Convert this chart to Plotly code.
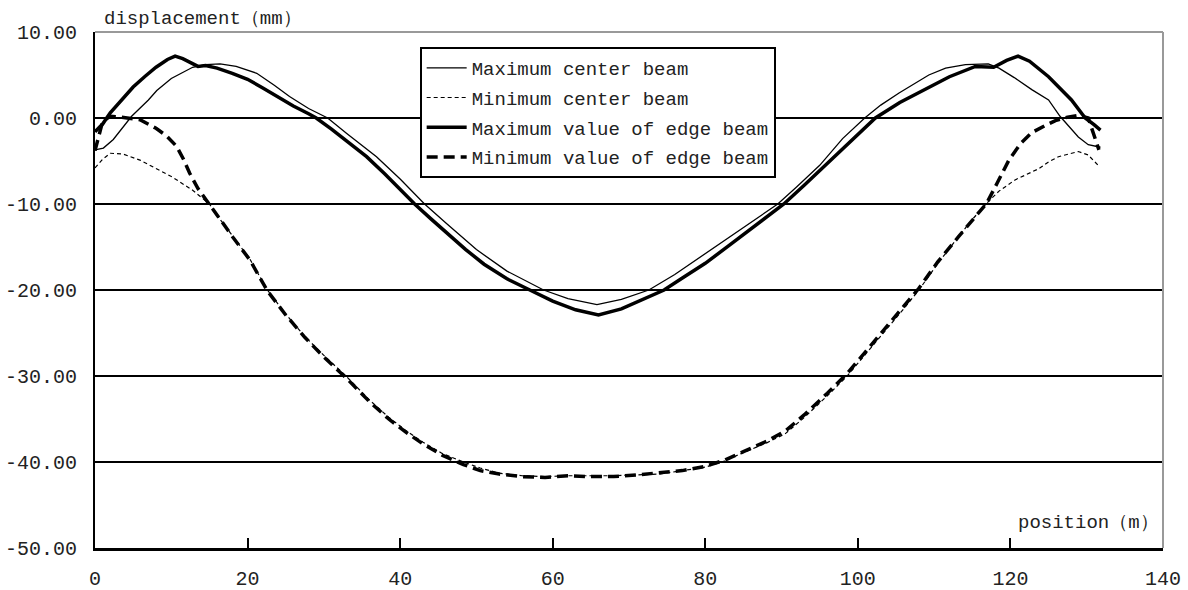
import plotly.graph_objects as go

# ---- data ----
center_max_x = [0, 1.1, 2.4, 3.7, 4.8, 7, 8.1, 10, 12.8, 14.5, 16.4, 18.5, 21.2, 23.5, 25.5, 28, 30.5,
                33, 36.9, 40, 43.2, 46, 50, 54, 58.8, 62, 65.8,
                69, 72.6, 76, 80, 84, 89.5, 92, 95, 98, 100.9, 103, 105.4, 109.3, 111.5, 114.1, 117.1,
                118.5, 120.5, 122.8, 125, 126.5, 128.9, 130.2, 131.8]
center_max_y = [-3.7, -3.5, -2.5, -1.0, 0.2, 2.1, 3.2, 4.6, 5.9, 6.2, 6.3, 6.0, 5.2, 3.8, 2.5, 1.1, 0.0,
                -1.8, -4.5, -7.1, -10.0, -12.2, -15.3, -17.8, -20.0, -21.0, -21.7,
                -21.1, -20.0, -18.2, -15.8, -13.4, -10.0, -8.0, -5.5, -2.4, 0.0, 1.5, 2.9, 5.0, 5.8, 6.2, 6.3,
                5.8, 4.7, 3.3, 2.1, 0.2, -2.2, -3.1, -3.4]

center_min_x = [0, 1, 2, 3.7, 5.9, 8, 10.2, 12.8, 15, 16.5, 18.1, 20.3, 22.6, 25, 27.5, 30, 32.9, 36,
                38.5, 40.7, 43, 45.5, 48.3, 50.5, 53, 56, 59, 62, 65, 68, 71, 74, 77, 80, 82.5, 85, 88,
                90.5, 93, 96, 98.6, 101, 103.5, 106, 108, 110.5, 113.2, 115, 116.9, 118.5, 120.6, 123.7,
                125, 126.3, 128.9, 130.2, 131.6]
center_min_y = [-5.8, -4.8, -4.1, -4.2, -4.9, -5.9, -6.9, -8.4, -10.0, -11.9, -13.8, -16.4, -20.0, -22.8,
                -25.4, -27.6, -30.0, -32.8, -34.8, -36.3, -37.7, -39.0, -40.0, -40.7, -41.3, -41.6, -41.7,
                -41.6, -41.6, -41.6, -41.5, -41.4, -41.0, -40.6, -39.9, -38.9, -37.8, -36.7, -34.8, -32.3,
                -30.0, -27.5, -24.8, -22.2, -20.0, -16.9, -13.8, -11.8, -9.9, -8.5, -7.2, -5.9, -5.1, -4.5,
                -3.9, -4.3, -5.6]

edge_max_x = [0, 1, 2, 3.5, 5, 6.5, 8, 9.5, 10.5, 11.5, 12.5, 13.5, 14.5, 16, 18, 20, 22, 24, 26, 28, 29,
              31, 33, 35.6, 38, 40, 41.9, 44, 46, 48.6, 51, 54, 57, 60, 63, 66,
              69, 72, 74.6, 77, 80, 83, 86, 88, 90.3, 93, 96, 99, 102.3, 105.5, 109.3, 112, 115.4, 117.8,
              119.5, 121, 122.5, 125, 128, 129.8, 131, 131.8]
edge_max_y = [-1.6, -0.7, 0.6, 2.1, 3.6, 4.8, 5.9, 6.8, 7.2, 6.9, 6.4, 6.0, 6.1, 5.8, 5.2, 4.5, 3.5, 2.4,
              1.4, 0.5, 0.0, -1.3, -2.7, -4.5, -6.5, -8.3, -10.0, -11.7, -13.3, -15.3, -17.0, -18.7, -20.0,
              -21.3, -22.3, -22.9,
              -22.2, -21.0, -20.0, -18.6, -16.9, -14.9, -12.9, -11.5, -10.0, -7.8, -5.3, -2.8, 0.0, 1.8,
              3.6, 4.8, 6.0, 5.9, 6.7, 7.2, 6.6, 4.8, 2.1, 0.0, -0.8, -1.4]

edge_min_x = [0, 0.5, 1, 2, 3.5, 5.9, 8, 9.4, 10.7, 11.6, 12.4, 13.5, 15, 16.5, 18.1, 20.3, 22.6, 25, 27.5,
              30, 32.9, 36, 38.5, 40.7, 43, 45.5, 48.3, 50.5, 53, 56, 59, 62, 65, 68, 71, 74, 77, 80, 82.5,
              85, 88, 90.5, 93, 96, 98.6, 101, 103.5, 106, 108, 110.5, 113.2, 115, 116.9, 118.3, 119.8,
              121.3, 122.8, 124.5, 125.9, 127.5, 128.9, 130.2, 130.9, 131.6]
edge_min_y = [-3.8, -2.0, -0.4, 0.2, 0.1, -0.2, -1.2, -2.1, -3.3, -4.8, -6.4, -8.2, -10.0, -11.9, -13.9,
              -16.5, -20.1, -22.9, -25.5, -27.8, -30.2, -33.0, -35.0, -36.5, -37.9, -39.2, -40.3, -41.0,
              -41.4, -41.7, -41.8, -41.6, -41.7, -41.7, -41.5, -41.3, -41.0, -40.5, -39.8, -38.8, -37.6,
              -36.4, -34.5, -32.0, -29.7, -27.2, -24.5, -21.9, -19.8, -16.7, -13.8, -11.9, -9.9, -7.5,
              -4.9, -3.0, -1.7, -0.9, -0.3, 0.1, 0.3, 0.0, -1.8, -3.7]

series_names = ["Maximum center beam", "Minimum center beam",
                "Maximum value of edge beam", "Minimum value of edge beam"]

y_tickvals = [10, 0, -10, -20, -30, -40, -50]
y_ticktext = ["10.00", "0.00", "-10.00", "-20.00", "-30.00", "-40.00", "-50.00"]
x_tickvals = [0, 20, 40, 60, 80, 100, 120, 140]
x_ticktext = ["0", "20", "40", "60", "80", "100", "120", "140"]

y_title = "displacement（mm）"
x_title = "position（m）"

# ---- figure ----
MONO = "Liberation Mono"
fig = go.Figure()
fig.add_trace(go.Scatter(x=center_max_x, y=center_max_y, mode="lines", name=series_names[0],
                         legendgroup="a", line=dict(color="black", width=1.3)))
fig.add_trace(go.Scatter(x=center_min_x, y=center_min_y, mode="lines", name=series_names[1],
                         legendgroup="b", line=dict(color="black", width=1.2, dash="4px,3px")))
fig.add_trace(go.Scatter(x=edge_max_x, y=edge_max_y, mode="lines", name=series_names[2],
                         legendgroup="c", line=dict(color="black", width=3.5)))
fig.add_trace(go.Scatter(x=edge_min_x, y=edge_min_y, mode="lines", name=series_names[3],
                         legendgroup="d", line=dict(color="black", width=3.5, dash="11px,6px")))

fig.update_layout(
    width=1188, height=590,
    margin=dict(l=95, r=25, t=32, b=42, autoexpand=False),
    paper_bgcolor="white", plot_bgcolor="white",
    font=dict(family=MONO, size=19, color="#222"),
    showlegend=True,
    legend=dict(x=0.304, y=0.971, xanchor="left", yanchor="top",
                bgcolor="white", bordercolor="black", borderwidth=2,
                font=dict(family=MONO, size=19, color="#222"),
                traceorder="grouped", tracegroupgap=2,
                itemwidth=40),
    xaxis=dict(range=[0, 140], tickvals=x_tickvals, ticktext=x_ticktext,
               ticks="inside", ticklen=10, tickwidth=1.5, tickcolor="black",
               showline=True, linecolor="black", linewidth=3,
               showgrid=False, zeroline=False, automargin=False,
               tickfont=dict(family=MONO, size=20, color="#222"),
               ticklabelstandoff=10),
    yaxis=dict(range=[-50, 10], tickvals=y_tickvals, ticktext=y_ticktext,
               ticks="", showline=True, linecolor="black", linewidth=2,
               showgrid=True, gridcolor="black", gridwidth=1.5, zeroline=False, automargin=False,
               tickfont=dict(family=MONO, size=20, color="#222"),
               ticklabelstandoff=12),
    shapes=[
        dict(type="line", xref="paper", yref="paper", x0=0, x1=1, y0=1, y1=1,
             line=dict(color="#999", width=2), layer="above"),
        dict(type="line", xref="paper", yref="paper", x0=1, x1=1, y0=0, y1=1,
             line=dict(color="#999", width=2), layer="above"),
    ],
    annotations=[
        dict(text=y_title, xref="paper", yref="paper", x=0.007, y=1.0, xanchor="left",
             yanchor="bottom", showarrow=False, yshift=0,
             font=dict(family=MONO, size=19, color="#222")),
        dict(text=x_title, xref="paper", yref="paper", x=0.998, y=0.048, xanchor="right",
             yanchor="middle", showarrow=False,
             font=dict(family=MONO, size=19, color="#222")),
    ],
)

fig.write_html("out.html", config={"displayModeBar": False},
               post_script="document.body.style.margin='0';document.body.style.padding='0';")
